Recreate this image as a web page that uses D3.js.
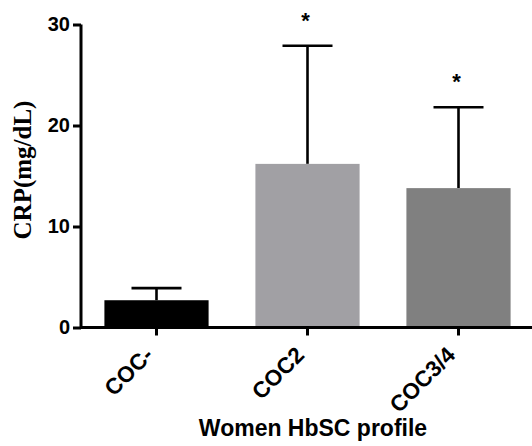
<!DOCTYPE html>
<html><head><meta charset="utf-8">
<script src="https://cdn.jsdelivr.net/npm/d3@7"></script>
<style>body{margin:0;background:#fff}svg{display:block}</style>
</head><body>
<svg id="c" width="532" height="446"></svg>
<script>
const categories = ["COC-", "COC2", "COC3/4"];
const means = [2.7, 16.2, 13.8];
const errUpper = [3.9, 27.9, 21.8];
const significant = [false, true, true];
const barColors = ["#000000", "#a1a0a4", "#808080"];
const yTicks = [0, 10, 20, 30];

const svg = d3.select("#c");
const x = d3.scaleBand().domain(categories).range([81, 534]).paddingInner(0.31).paddingOuter(0.155);
const y = d3.scaleLinear().domain([0, 30]).range([327.5, 24.5]);

const data = categories.map((c, i) => ({c, m: means[i], e: errUpper[i], s: significant[i], col: barColors[i]}));

// error bars (behind bars)
const eb = svg.append("g").attr("stroke", "#000").attr("stroke-width", 2.6);
data.forEach(d => {
  const cx = x(d.c) + x.bandwidth() / 2;
  eb.append("line").attr("x1", cx).attr("x2", cx).attr("y1", y(d.m)).attr("y2", y(d.e));
  eb.append("line").attr("x1", cx - 25).attr("x2", cx + 25).attr("y1", y(d.e)).attr("y2", y(d.e));
});

svg.append("g").selectAll("rect").data(data).join("rect")
  .attr("x", d => x(d.c)).attr("width", x.bandwidth())
  .attr("y", d => y(d.m)).attr("height", d => y(0) - y(d.m))
  .attr("fill", d => d.col);

// asterisks
svg.append("g").selectAll("text").data(data.filter(d => d.s)).join("text")
  .attr("x", d => x(d.c) + x.bandwidth() / 2 - 2)
  .attr("y", d => y(d.e) - 18)
  .attr("text-anchor", "middle")
  .attr("font-family", "Liberation Sans, Arial, sans-serif")
  .attr("font-size", 22).attr("font-weight", "bold")
  .text("*");

// y axis
const ya = svg.append("g").attr("transform", "translate(81,0)")
  .call(d3.axisLeft(y).tickValues(yTicks).tickSize(8).tickPadding(3));
ya.select(".domain").attr("stroke-width", 3).attr("d", `M0,${y(30)}V${y(0)}`);
ya.selectAll(".tick line").attr("stroke-width", 3);
ya.selectAll(".tick text").attr("font-family", "Liberation Sans, Arial, sans-serif")
  .attr("font-size", 20).attr("font-weight", "bold").attr("fill", "#000");

// x axis
const xa = svg.append("g").attr("transform", `translate(0,${y(0)})`)
  .call(d3.axisBottom(x).tickSize(8).tickPadding(4));
xa.select(".domain").attr("stroke-width", 3).attr("d", `M81,0H532`);
xa.selectAll(".tick line").attr("stroke-width", 3);
xa.selectAll(".tick text").attr("font-family", "Liberation Sans, Arial, sans-serif")
  .attr("font-size", 22.5).attr("font-weight", "bold").attr("fill", "#000")
  .attr("text-anchor", "end").attr("dy", null)
  .attr("transform", "translate(-2,29) rotate(-45)")
  .attr("y", 0).attr("x", 0);

// axis titles
svg.append("text").attr("transform", "translate(31,170) rotate(-90)")
  .attr("text-anchor", "middle")
  .attr("font-family", "Liberation Serif, Times New Roman, serif")
  .attr("font-size", 25).attr("font-weight", "bold").text("CRP(mg/dL)");
svg.append("text").attr("x", 313).attr("y", 436)
  .attr("text-anchor", "middle")
  .attr("font-family", "Liberation Sans, Arial, sans-serif")
  .attr("font-size", 23).attr("font-weight", "bold").text("Women HbSC profile");
</script>
</body></html>
